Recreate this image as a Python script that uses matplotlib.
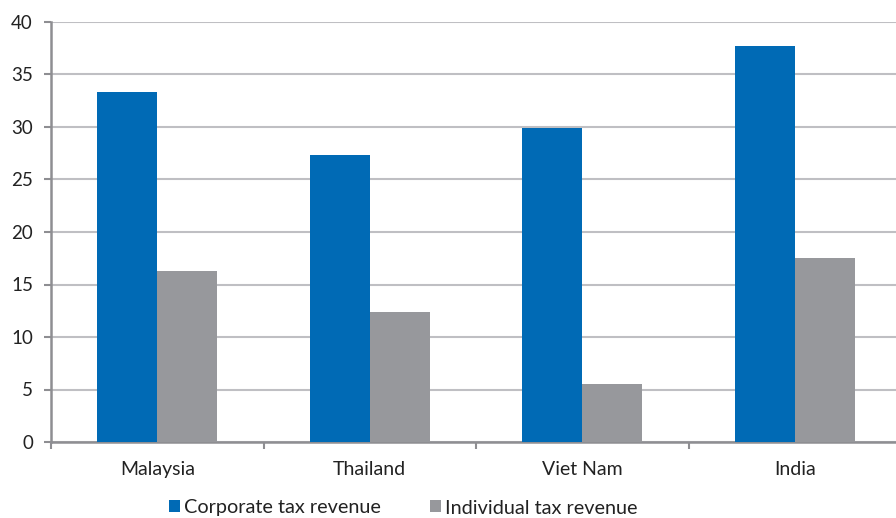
import matplotlib
matplotlib.use("Agg")
import matplotlib.pyplot as plt
import numpy as np

categories = ["Malaysia", "Thailand", "Viet Nam", "India"]
corporate = [33.3, 27.3, 29.9, 37.7]
individual = [16.3, 12.4, 5.5, 17.5]
series_names = ["Corporate tax revenue", "Individual tax revenue"]
yticks = [0, 5, 10, 15, 20, 25, 30, 35, 40]

blue = "#006AB5"
gray = "#97989C"
grid_c = "#BFBFC3"
axis_c = "#8E8E92"
text_c = "#222222"

plt.rcParams['font.family'] = ['Lato', 'DejaVu Sans']

fig = plt.figure(figsize=(8.96, 5.18), dpi=100)
ax = fig.add_axes([51/896, 1-442/518, (901-51)/896, (442-22)/518])

x = np.arange(len(categories))
w = 0.283
ax.bar(x - w/2, corporate, width=w, color=blue, label=series_names[0], zorder=3)
ax.bar(x + w/2, individual, width=w, color=gray, label=series_names[1], zorder=3)

ax.set_xlim(-0.5, len(categories) - 0.5)
ax.set_ylim(0, 40)
ax.set_yticks(yticks)
ax.set_yticklabels([str(v) for v in yticks], fontsize=13.5, color=text_c)
ax.set_xticks(x)
ax.set_xticklabels(categories, fontsize=14, color=text_c)
ax.tick_params(axis='x', length=0, pad=14)
ax.set_xticks(np.arange(-0.5, len(categories)), minor=True)
ax.tick_params(axis='x', which='minor', length=5, width=1.5, color=axis_c)
ax.tick_params(axis='y', length=5, width=1.5, color=axis_c, pad=8)

ax.yaxis.grid(True, color=grid_c, linewidth=1.5, zorder=0)
ax.set_axisbelow(True)
for s in ['top', 'right']:
    ax.spines[s].set_visible(False)
for s in ['left', 'bottom']:
    ax.spines[s].set_color(axis_c)
    ax.spines[s].set_linewidth(1.8)

leg = fig.legend(loc='center left', bbox_to_anchor=(169/896, 1-508/518), ncol=2,
                 frameon=False, fontsize=14.3, handlelength=0.55, handleheight=0.55,
                 handletextpad=0.2, columnspacing=2.5, borderaxespad=0, borderpad=0)
for t in leg.get_texts():
    t.set_color(text_c)

fig.savefig("out.png", dpi=100)
